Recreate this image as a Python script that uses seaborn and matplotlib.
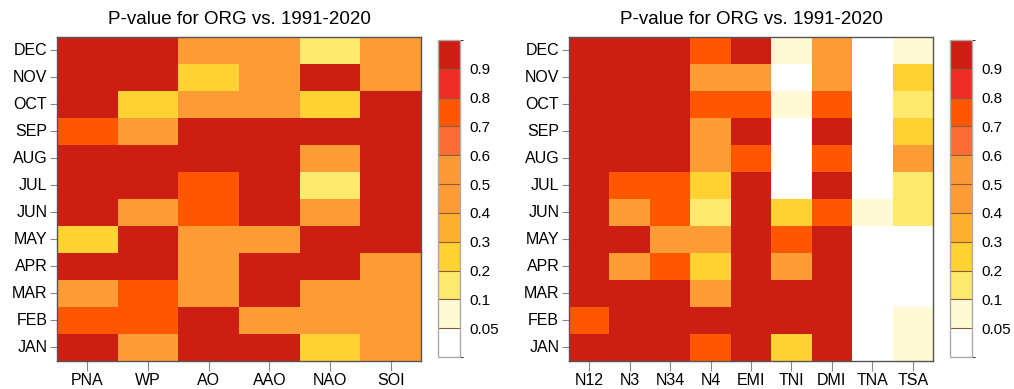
import numpy as np
import pandas as pd
import seaborn as sns
from matplotlib import pyplot as plt
from matplotlib.colors import ListedColormap, BoundaryNorm

# data -->
months = ['DEC', 'NOV', 'OCT', 'SEP', 'AUG', 'JUL', 'JUN', 'MAY', 'APR', 'MAR', 'FEB', 'JAN']
left_idx = ['PNA', 'WP', 'AO', 'AAO', 'NAO', 'SOI']
right_idx = ['N12', 'N3', 'N34', 'N4', 'EMI', 'TNI', 'DMI', 'TNA', 'TSA']

left_pvals = [
    [0.95, 0.95, 0.45, 0.45, 0.15, 0.45],
    [0.95, 0.95, 0.25, 0.45, 0.95, 0.45],
    [0.95, 0.25, 0.45, 0.45, 0.25, 0.95],
    [0.75, 0.45, 0.95, 0.95, 0.95, 0.95],
    [0.95, 0.95, 0.95, 0.95, 0.45, 0.95],
    [0.95, 0.95, 0.75, 0.95, 0.15, 0.95],
    [0.95, 0.45, 0.75, 0.95, 0.45, 0.95],
    [0.25, 0.95, 0.45, 0.45, 0.95, 0.95],
    [0.95, 0.95, 0.45, 0.95, 0.95, 0.45],
    [0.45, 0.75, 0.45, 0.95, 0.45, 0.45],
    [0.75, 0.75, 0.95, 0.45, 0.45, 0.45],
    [0.95, 0.45, 0.95, 0.95, 0.25, 0.45],
]
right_pvals = [
    [0.95, 0.95, 0.95, 0.75, 0.95, 0.07, 0.45, 0.02, 0.07],
    [0.95, 0.95, 0.95, 0.45, 0.45, 0.02, 0.45, 0.02, 0.25],
    [0.95, 0.95, 0.95, 0.75, 0.75, 0.07, 0.75, 0.02, 0.15],
    [0.95, 0.95, 0.95, 0.45, 0.95, 0.02, 0.95, 0.02, 0.25],
    [0.95, 0.95, 0.95, 0.45, 0.75, 0.02, 0.75, 0.02, 0.45],
    [0.95, 0.75, 0.75, 0.25, 0.95, 0.02, 0.95, 0.02, 0.15],
    [0.95, 0.45, 0.75, 0.15, 0.95, 0.25, 0.75, 0.07, 0.15],
    [0.95, 0.95, 0.45, 0.45, 0.95, 0.75, 0.95, 0.02, 0.02],
    [0.95, 0.45, 0.75, 0.25, 0.95, 0.45, 0.95, 0.02, 0.02],
    [0.95, 0.95, 0.95, 0.45, 0.95, 0.95, 0.95, 0.02, 0.02],
    [0.75, 0.95, 0.95, 0.95, 0.95, 0.95, 0.95, 0.02, 0.07],
    [0.95, 0.95, 0.95, 0.75, 0.95, 0.25, 0.95, 0.02, 0.07],
]

levels = [0, 0.05, 0.1, 0.2, 0.3, 0.4, 0.5, 0.6, 0.7, 0.8, 0.9, 1.0]
level_colors = ['#ffffff', '#fffad6', '#fee96f', '#fdd232', '#fdb030', '#fd9c35',
                '#fd9a35', '#fb6b35', '#ff5600', '#ee2b25', '#cc1e12']
tick_vals = levels[1:-1]
tick_labels = ['0.05', '0.1', '0.2', '0.3', '0.4', '0.5', '0.6', '0.7', '0.8', '0.9']

# style -->
sns.set_style('white')
plt.rcParams['font.family'] = ['Liberation Sans', 'DejaVu Sans']
plt.rcParams['text.color'] = 'black'
plt.rcParams['xtick.color'] = 'black'
plt.rcParams['ytick.color'] = 'black'

cmap = ListedColormap(level_colors)
norm = BoundaryNorm(levels, cmap.N)

fig = plt.figure(figsize=(10.14, 3.89), dpi=100)

panels = [
    (left_pvals, left_idx, [0.0562, 0.072, 0.359, 0.833], [0.432, 0.0823, 0.0217, 0.815]),
    (right_pvals, right_idx, [0.5611, 0.072, 0.359, 0.833], [0.9369, 0.0823, 0.0217, 0.815]),
]

for vals, cols, ax_pos, cb_pos in panels:
    df = pd.DataFrame(vals, index=months, columns=cols)
    ax = fig.add_axes(ax_pos)
    cax = fig.add_axes(cb_pos)
    sns.heatmap(df, cmap=cmap, norm=norm, ax=ax, cbar_ax=cax,
                cbar_kws=dict(ticks=tick_vals, drawedges=True))
    ax.set_title('P-value for ORG vs. 1991-2020', fontsize=13.5, pad=9, color='black')
    for s in ax.spines.values():
        s.set_visible(True)
        s.set_color('#555555')
        s.set_linewidth(1.0)
    ax.tick_params(axis='y', left=True, length=5, width=0.8, color='#888888',
                   labelcolor='black', labelsize=11.5, rotation=0, pad=2)
    ax.tick_params(axis='x', bottom=True, length=7, width=0.8, color='#888888',
                   labelcolor='black', labelsize=11.5, rotation=0, pad=2)
    ax.set_xlabel('')
    ax.set_ylabel('')

    cb = ax.collections[0].colorbar
    cb.set_ticks(tick_vals)
    cb.set_ticklabels(tick_labels)
    cb.ax.tick_params(length=0, labelsize=11, pad=7, labelcolor='black')
    cb.outline.set_edgecolor('#aaaaaa')
    cb.outline.set_linewidth(1.0)
    cb.dividers.set_color('#8a5a3a')
    cb.dividers.set_linewidth(0.8)

plt.savefig('out.png', dpi=100)
